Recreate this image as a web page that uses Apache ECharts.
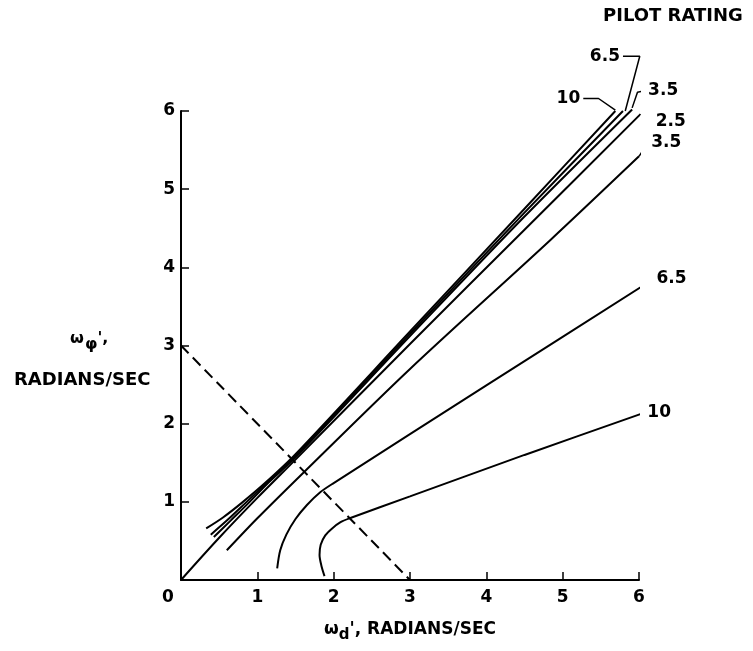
<!DOCTYPE html>
<html>
<head>
<meta charset="UTF-8">
<title>Pilot rating vs frequency ratio</title>
<script src="https://cdn.jsdelivr.net/npm/echarts@6/dist/echarts.min.js"></script>
<style>
  html, body { margin: 0; padding: 0; background: #fff; }
  #chart { width: 753px; height: 651px; }
</style>
</head>
<body>
<div id="chart"></div>
<script>
// axis ticks
var ticks = [0, 1, 2, 3, 4, 5, 6];

// curves, [omega_d, omega_phi]
var r10a  = [[0.33, 0.66], [0.55, 0.80], [0.8, 0.99], [1.1, 1.24], [1.5, 1.61], [3.0, 3.18], [4.5, 4.75], [5.69, 6.0]];
var r65a  = [[0.39, 0.58], [0.6, 0.76], [0.85, 0.99], [1.1, 1.22], [1.5, 1.59], [3.0, 3.15], [4.5, 4.70], [5.79, 6.0]];
var r35a  = [[0.43, 0.55], [0.65, 0.76], [0.9, 1.0], [1.15, 1.25], [1.5, 1.57], [3.0, 3.12], [4.5, 4.65], [5.91, 6.02]];
var r25   = [[0.0, 0.0], [0.5, 0.54], [1.0, 1.05], [1.5, 1.54], [3.0, 3.02], [4.5, 4.48], [6.02, 5.96]];
var r35b  = [[0.60, 0.38], [1.0, 0.79], [1.6, 1.37], [3.0, 2.70], [4.84, 4.35], [6.0, 5.42]];
var r65b  = [[1.26, 0.15], [1.30, 0.38], [1.38, 0.58], [1.50, 0.78], [1.65, 0.96], [1.82, 1.12], [2.0, 1.24], [4.0, 2.49], [6.19, 3.85]];
var r10b  = [[1.88, 0.05], [1.84, 0.18], [1.815, 0.32], [1.83, 0.45], [1.89, 0.57], [1.98, 0.66], [2.09, 0.74], [2.21, 0.79], [3.0, 1.07], [4.5, 1.60], [6.07, 2.14]];
var dashed = [[0, 3], [3, 0]];

// label leaders
var lead10  = [[5.69, 6.01], [5.47, 6.16], [5.27, 6.16]];
var lead65  = [[5.82, 6.0], [6.01, 6.70], [5.79, 6.70]];
var lead35a = [[5.91, 6.04], [5.98, 6.24], [6.08, 6.26]];
var lead25  = [[6.02, 5.96], [6.10, 5.87], [6.18, 5.87]];
var lead35b = [[6.0, 5.42], [6.12, 5.60]];

var font = '"DejaVu Sans", "Open Sans", sans-serif';

function curve(data, dash) {
  return {
    type: 'line',
    data: data,
    showSymbol: false,
    symbol: 'none',
    smooth: 0.3,
    clip: false,
    silent: true,
    lineStyle: { color: '#000', width: 2, type: dash ? [11, 6] : 'solid' },
    z: 3
  };
}

function labelled(data, text, pos) {
  return data.map(function (p, i) {
    if (i < data.length - 1) return { value: p };
    return {
      value: p,
      label: {
        show: true, formatter: text, position: pos, distance: 3,
        color: '#000', fontSize: 17, fontWeight: 'bold', fontFamily: font
      }
    };
  });
}

function leader(data, text, pos) {
  return {
    type: 'line',
    data: labelled(data, text, pos),
    symbol: 'circle',
    symbolSize: 0,
    showSymbol: true,
    clip: false,
    silent: true,
    lineStyle: { color: '#000', width: 1.5 },
    z: 3
  };
}

function endText(data, text) {
  var s = curve(labelled(data, text, 'right'), false);
  s.symbol = 'circle';
  s.symbolSize = 0;
  s.showSymbol = true;
  return s;
}

var chart = echarts.init(document.getElementById('chart'));

var option = {
  animation: false,
  backgroundColor: '#fff',
  grid: { left: 181, right: 114, top: 111, bottom: 71 },
  xAxis: {
    type: 'value', min: 0, max: 6, interval: 1,
    name: '{w|ω}{s|d}{w|\',} RADIANS/SEC',
    nameLocation: 'middle', nameGap: 36,
    nameTextStyle: {
      color: '#000', fontSize: 17, fontWeight: 'bold', fontFamily: font,
      rich: {
        w: { fontSize: 17, fontWeight: 'bold', fontFamily: font, color: '#000' },
        s: { fontSize: 15, fontWeight: 'bold', fontFamily: font, color: '#000', padding: [12, 0, 0, 0] }
      }
    },
    axisLine: { lineStyle: { color: '#000', width: 2 } },
    axisTick: { inside: true, length: 8, lineStyle: { color: '#000', width: 1.5 } },
    splitLine: { show: false },
    axisLabel: {
      margin: 9, color: '#000', fontSize: 17, fontWeight: 'bold', fontFamily: font,
      formatter: function (v) { return v === 0 ? '{z|0}' : String(v); },
      rich: { z: { fontSize: 17, fontWeight: 'bold', fontFamily: font, color: '#000', padding: [0, 26, 0, 0] } }
    }
  },
  yAxis: {
    type: 'value', min: 0, max: 6, interval: 1,
    axisLine: { lineStyle: { color: '#000', width: 2 } },
    axisTick: { inside: true, length: 8, lineStyle: { color: '#000', width: 1.5 } },
    splitLine: { show: false },
    axisLabel: {
      margin: 6, color: '#000', fontSize: 17, fontWeight: 'bold', fontFamily: font,
      formatter: function (v) { return v === 0 ? '' : String(v); }
    }
  },
  graphic: [
    {
      type: 'text', left: 603, top: 7,
      style: { text: 'PILOT RATING', fill: '#000', font: 'bold 18px ' + font }
    },
    {
      type: 'text', left: 70, top: 331,
      style: {
        text: '{w|ω}{s|φ}{w|\',}',
        rich: {
          w: { fill: '#000', font: 'bold 16px ' + font },
          s: { fill: '#000', font: 'bold 16px ' + font, padding: [12, 0, 0, 1] }
        }
      }
    },
    {
      type: 'text', left: 14, top: 371,
      style: { text: 'RADIANS/SEC', fill: '#000', font: 'bold 18px ' + font }
    }
  ],
  series: [
    curve(dashed, true),
    curve(r10a, false),
    curve(r65a, false),
    curve(r35a, false),
    curve(r25, false),
    curve(r35b, false),
    endText(r65b, '6.5'),
    endText(r10b, '10'),
    leader(lead10, '10', 'left'),
    leader(lead65, '6.5', 'left'),
    leader(lead35a, '3.5', 'right'),
    leader(lead25, '2.5', 'right'),
    leader(lead35b, '3.5', 'right')
  ]
};

chart.setOption(option);
</script>
</body>
</html>
